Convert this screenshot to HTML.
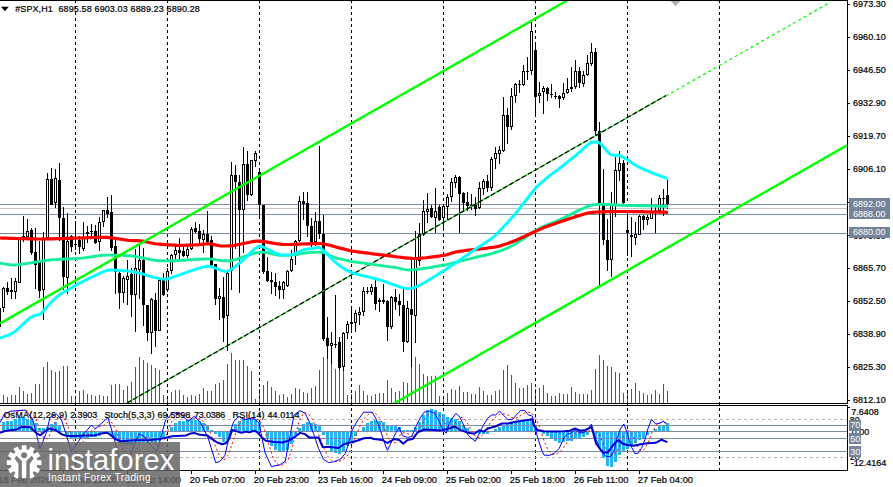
<!DOCTYPE html><html><head><meta charset="utf-8"><title>chart</title><style>
html,body{margin:0;padding:0;background:#fff}
body{width:893px;height:487px;position:relative;overflow:hidden;font-family:"Liberation Sans",sans-serif;font-size:9px;color:#000}
.t{position:absolute;white-space:pre;line-height:10px;height:10px;-webkit-text-stroke:0.22px #000}
.pl{left:853px;letter-spacing:0.05px}
.bx{position:absolute;left:849px;width:41px;background:#75849b;color:#fff;height:10px;line-height:10px;white-space:pre}
.bx span{position:absolute;left:3px;top:0}
.wm{position:absolute;left:0;top:442px;width:180px;height:45px;background:rgba(100,100,100,0.84)}
</style></head><body>
<svg width="893" height="487" viewBox="0 0 893 487" style="position:absolute;left:0;top:0">
<rect width="893" height="487" fill="#fff"/>
<defs><clipPath id="cm"><rect x="0" y="1" width="847" height="402"/></clipPath><clipPath id="cs"><rect x="0" y="406" width="847" height="64"/></clipPath></defs>
<g shape-rendering="crispEdges">
<rect x="0" y="204" width="847" height="1" fill="#7a8ba3"/>
<rect x="0" y="208" width="847" height="1" fill="#c4c4c4"/>
<rect x="0" y="214" width="847" height="1" fill="#7a8ba3"/>
<rect x="0" y="233" width="847" height="1" fill="#7a8ba3"/>
</g>
<g shape-rendering="crispEdges" fill="#0d8a0d">
<rect x="3" y="395.1" width="1" height="7.9"/>
<rect x="7" y="397.1" width="1" height="5.9"/>
<rect x="11" y="395.1" width="1" height="7.9"/>
<rect x="15" y="395.1" width="1" height="7.9"/>
<rect x="19" y="387.0" width="1" height="16.0"/>
<rect x="23" y="390.9" width="1" height="12.1"/>
<rect x="27" y="394.1" width="1" height="8.9"/>
<rect x="31" y="393.3" width="1" height="9.7"/>
<rect x="35" y="384.0" width="1" height="19.0"/>
<rect x="39" y="384.0" width="1" height="19.0"/>
<rect x="43" y="366.9" width="1" height="36.1"/>
<rect x="47" y="361.8" width="1" height="41.2"/>
<rect x="51" y="369.9" width="1" height="33.1"/>
<rect x="55" y="371.9" width="1" height="31.1"/>
<rect x="59" y="371.1" width="1" height="31.9"/>
<rect x="63" y="366.0" width="1" height="37.0"/>
<rect x="67" y="366.0" width="1" height="37.0"/>
<rect x="71" y="395.9" width="1" height="7.1"/>
<rect x="75" y="396.3" width="1" height="6.7"/>
<rect x="79" y="391.2" width="1" height="11.8"/>
<rect x="83" y="390.1" width="1" height="12.9"/>
<rect x="87" y="394.1" width="1" height="8.9"/>
<rect x="91" y="395.1" width="1" height="7.9"/>
<rect x="95" y="395.9" width="1" height="7.1"/>
<rect x="99" y="395.1" width="1" height="7.9"/>
<rect x="103" y="395.9" width="1" height="7.1"/>
<rect x="107" y="395.9" width="1" height="7.1"/>
<rect x="111" y="385.0" width="1" height="18.0"/>
<rect x="115" y="384.0" width="1" height="19.0"/>
<rect x="119" y="384.0" width="1" height="19.0"/>
<rect x="123" y="390.1" width="1" height="12.9"/>
<rect x="127" y="386.2" width="1" height="16.8"/>
<rect x="131" y="382.0" width="1" height="21.0"/>
<rect x="135" y="366.9" width="1" height="36.1"/>
<rect x="139" y="357.1" width="1" height="45.9"/>
<rect x="143" y="360.2" width="1" height="42.8"/>
<rect x="147" y="363.2" width="1" height="39.8"/>
<rect x="151" y="365.2" width="1" height="37.8"/>
<rect x="155" y="368.2" width="1" height="34.8"/>
<rect x="159" y="370.2" width="1" height="32.8"/>
<rect x="163" y="395.1" width="1" height="7.9"/>
<rect x="167" y="396.3" width="1" height="6.7"/>
<rect x="171" y="392.1" width="1" height="10.9"/>
<rect x="175" y="390.1" width="1" height="12.9"/>
<rect x="179" y="390.1" width="1" height="12.9"/>
<rect x="183" y="395.1" width="1" height="7.9"/>
<rect x="187" y="397.1" width="1" height="5.9"/>
<rect x="191" y="395.1" width="1" height="7.9"/>
<rect x="195" y="396.3" width="1" height="6.7"/>
<rect x="199" y="394.1" width="1" height="8.9"/>
<rect x="203" y="388.2" width="1" height="14.8"/>
<rect x="207" y="390.9" width="1" height="12.1"/>
<rect x="211" y="390.9" width="1" height="12.1"/>
<rect x="215" y="384.0" width="1" height="19.0"/>
<rect x="219" y="383.2" width="1" height="19.8"/>
<rect x="223" y="380.0" width="1" height="23.0"/>
<rect x="227" y="364.0" width="1" height="39.0"/>
<rect x="231" y="353.1" width="1" height="49.9"/>
<rect x="235" y="360.2" width="1" height="42.8"/>
<rect x="239" y="360.2" width="1" height="42.8"/>
<rect x="243" y="360.2" width="1" height="42.8"/>
<rect x="247" y="366.0" width="1" height="37.0"/>
<rect x="251" y="371.1" width="1" height="31.9"/>
<rect x="255" y="399.1" width="1" height="3.9"/>
<rect x="259" y="389.2" width="1" height="13.8"/>
<rect x="263" y="385.0" width="1" height="18.0"/>
<rect x="267" y="381.2" width="1" height="21.8"/>
<rect x="271" y="387.0" width="1" height="16.0"/>
<rect x="275" y="391.2" width="1" height="11.8"/>
<rect x="279" y="395.1" width="1" height="7.9"/>
<rect x="283" y="394.1" width="1" height="8.9"/>
<rect x="287" y="397.1" width="1" height="5.9"/>
<rect x="291" y="394.1" width="1" height="8.9"/>
<rect x="295" y="388.2" width="1" height="14.8"/>
<rect x="299" y="389.2" width="1" height="13.8"/>
<rect x="303" y="392.2" width="1" height="10.8"/>
<rect x="307" y="393.0" width="1" height="10.0"/>
<rect x="311" y="388.3" width="1" height="14.7"/>
<rect x="315" y="386.2" width="1" height="16.8"/>
<rect x="319" y="370.3" width="1" height="32.7"/>
<rect x="323" y="357.2" width="1" height="45.8"/>
<rect x="327" y="358.9" width="1" height="44.1"/>
<rect x="331" y="363.9" width="1" height="39.1"/>
<rect x="335" y="369.0" width="1" height="34.0"/>
<rect x="339" y="369.8" width="1" height="33.2"/>
<rect x="343" y="370.7" width="1" height="32.3"/>
<rect x="347" y="395.1" width="1" height="7.9"/>
<rect x="351" y="394.2" width="1" height="8.8"/>
<rect x="355" y="391.2" width="1" height="11.8"/>
<rect x="359" y="385.0" width="1" height="18.0"/>
<rect x="363" y="390.5" width="1" height="12.5"/>
<rect x="367" y="395.1" width="1" height="7.9"/>
<rect x="371" y="395.9" width="1" height="7.1"/>
<rect x="375" y="394.2" width="1" height="8.8"/>
<rect x="379" y="393.4" width="1" height="9.6"/>
<rect x="383" y="393.0" width="1" height="10.0"/>
<rect x="387" y="380.2" width="1" height="22.8"/>
<rect x="391" y="388.3" width="1" height="14.7"/>
<rect x="395" y="392.2" width="1" height="10.8"/>
<rect x="399" y="391.2" width="1" height="11.8"/>
<rect x="403" y="382.4" width="1" height="20.6"/>
<rect x="407" y="383.3" width="1" height="19.7"/>
<rect x="411" y="367.3" width="1" height="35.7"/>
<rect x="415" y="357.2" width="1" height="45.8"/>
<rect x="419" y="364.2" width="1" height="38.8"/>
<rect x="423" y="374.0" width="1" height="29.0"/>
<rect x="427" y="376.2" width="1" height="26.8"/>
<rect x="431" y="376.2" width="1" height="26.8"/>
<rect x="435" y="375.7" width="1" height="27.3"/>
<rect x="439" y="395.9" width="1" height="7.1"/>
<rect x="443" y="397.6" width="1" height="5.4"/>
<rect x="447" y="393.3" width="1" height="9.7"/>
<rect x="451" y="389.1" width="1" height="13.9"/>
<rect x="455" y="390.1" width="1" height="12.9"/>
<rect x="459" y="386.2" width="1" height="16.8"/>
<rect x="463" y="392.1" width="1" height="10.9"/>
<rect x="467" y="392.1" width="1" height="10.9"/>
<rect x="471" y="394.1" width="1" height="8.9"/>
<rect x="475" y="394.1" width="1" height="8.9"/>
<rect x="479" y="387.0" width="1" height="16.0"/>
<rect x="483" y="391.2" width="1" height="11.8"/>
<rect x="487" y="395.1" width="1" height="7.9"/>
<rect x="491" y="395.1" width="1" height="7.9"/>
<rect x="495" y="391.2" width="1" height="11.8"/>
<rect x="499" y="390.1" width="1" height="12.9"/>
<rect x="503" y="370.2" width="1" height="32.8"/>
<rect x="507" y="365.2" width="1" height="37.8"/>
<rect x="511" y="375.3" width="1" height="27.7"/>
<rect x="515" y="383.2" width="1" height="19.8"/>
<rect x="519" y="388.2" width="1" height="14.8"/>
<rect x="523" y="388.2" width="1" height="14.8"/>
<rect x="527" y="385.0" width="1" height="18.0"/>
<rect x="531" y="383.2" width="1" height="19.8"/>
<rect x="535" y="389.1" width="1" height="13.9"/>
<rect x="539" y="388.2" width="1" height="14.8"/>
<rect x="543" y="385.0" width="1" height="18.0"/>
<rect x="547" y="393.3" width="1" height="9.7"/>
<rect x="551" y="396.3" width="1" height="6.7"/>
<rect x="555" y="396.3" width="1" height="6.7"/>
<rect x="559" y="393.3" width="1" height="9.7"/>
<rect x="563" y="394.1" width="1" height="8.9"/>
<rect x="567" y="394.1" width="1" height="8.9"/>
<rect x="571" y="387.0" width="1" height="16.0"/>
<rect x="575" y="392.1" width="1" height="10.9"/>
<rect x="579" y="394.1" width="1" height="8.9"/>
<rect x="583" y="394.1" width="1" height="8.9"/>
<rect x="587" y="394.1" width="1" height="8.9"/>
<rect x="591" y="390.1" width="1" height="12.9"/>
<rect x="595" y="369.1" width="1" height="33.9"/>
<rect x="599" y="355.1" width="1" height="47.9"/>
<rect x="603" y="360.2" width="1" height="42.8"/>
<rect x="607" y="366.0" width="1" height="37.0"/>
<rect x="611" y="366.9" width="1" height="36.1"/>
<rect x="615" y="371.9" width="1" height="31.1"/>
<rect x="619" y="373.1" width="1" height="29.9"/>
<rect x="623" y="393.3" width="1" height="9.7"/>
<rect x="627" y="392.1" width="1" height="10.9"/>
<rect x="631" y="389.1" width="1" height="13.9"/>
<rect x="635" y="383.2" width="1" height="19.8"/>
<rect x="639" y="391.2" width="1" height="11.8"/>
<rect x="643" y="393.3" width="1" height="9.7"/>
<rect x="647" y="395.1" width="1" height="7.9"/>
<rect x="651" y="394.1" width="1" height="8.9"/>
<rect x="655" y="390.1" width="1" height="12.9"/>
<rect x="659" y="394.1" width="1" height="8.9"/>
<rect x="663" y="384.0" width="1" height="19.0"/>
<rect x="667" y="391.2" width="1" height="11.8"/>
</g>
<g shape-rendering="crispEdges" stroke="#000" stroke-width="1" stroke-dasharray="3 3">
<line x1="75.5" y1="0" x2="75.5" y2="470"/>
<line x1="167.5" y1="0" x2="167.5" y2="470"/>
<line x1="259.5" y1="0" x2="259.5" y2="470"/>
<line x1="351.5" y1="0" x2="351.5" y2="470"/>
<line x1="443.5" y1="0" x2="443.5" y2="470"/>
<line x1="535.5" y1="0" x2="535.5" y2="470"/>
<line x1="627.5" y1="0" x2="627.5" y2="470"/>
<line x1="719.5" y1="0" x2="719.5" y2="470"/>
</g>
<g shape-rendering="crispEdges" clip-path="url(#cm)">
<rect x="-1" y="300.0" width="1" height="27.0" fill="#000"/>
<rect x="-2" y="308.0" width="3" height="19.0" fill="#000"/>
<rect x="3" y="286.8" width="1" height="25.2" fill="#000"/>
<rect x="2" y="287.7" width="3" height="20.3" fill="#000"/>
<rect x="3" y="288.7" width="1" height="18.3" fill="#fff"/>
<rect x="7" y="282.0" width="1" height="13.0" fill="#000"/>
<rect x="6" y="287.7" width="3" height="4.2" fill="#000"/>
<rect x="11" y="278.4" width="1" height="21.0" fill="#000"/>
<rect x="10" y="290.0" width="3" height="1.5" fill="#000"/>
<rect x="15" y="278.0" width="1" height="21.4" fill="#000"/>
<rect x="14" y="281.0" width="3" height="11.0" fill="#000"/>
<rect x="15" y="282.0" width="1" height="9.0" fill="#fff"/>
<rect x="19" y="236.6" width="1" height="46.0" fill="#000"/>
<rect x="18" y="238.0" width="3" height="44.6" fill="#000"/>
<rect x="19" y="239.0" width="1" height="42.6" fill="#fff"/>
<rect x="23" y="216.4" width="1" height="25.2" fill="#000"/>
<rect x="22" y="235.8" width="3" height="2.5" fill="#000"/>
<rect x="23" y="236.8" width="1" height="0.5" fill="#fff"/>
<rect x="27" y="219.0" width="1" height="18.0" fill="#000"/>
<rect x="26" y="230.7" width="3" height="5.9" fill="#000"/>
<rect x="27" y="231.7" width="1" height="3.9" fill="#fff"/>
<rect x="31" y="228.0" width="1" height="26.8" fill="#000"/>
<rect x="30" y="229.9" width="3" height="23.1" fill="#000"/>
<rect x="35" y="228.2" width="1" height="60.3" fill="#000"/>
<rect x="34" y="252.0" width="3" height="13.0" fill="#000"/>
<rect x="39" y="241.4" width="1" height="56.4" fill="#000"/>
<rect x="38" y="261.6" width="3" height="29.4" fill="#000"/>
<rect x="43" y="231.5" width="1" height="88.5" fill="#000"/>
<rect x="42" y="237.5" width="3" height="52.7" fill="#000"/>
<rect x="43" y="238.5" width="1" height="50.7" fill="#fff"/>
<rect x="47" y="173.1" width="1" height="64.9" fill="#000"/>
<rect x="46" y="178.5" width="3" height="59.5" fill="#000"/>
<rect x="47" y="179.5" width="1" height="57.5" fill="#fff"/>
<rect x="51" y="168.0" width="1" height="36.6" fill="#000"/>
<rect x="50" y="179.4" width="3" height="25.2" fill="#000"/>
<rect x="55" y="169.3" width="1" height="38.7" fill="#000"/>
<rect x="54" y="177.7" width="3" height="25.3" fill="#000"/>
<rect x="55" y="178.7" width="1" height="23.3" fill="#fff"/>
<rect x="59" y="163.0" width="1" height="78.0" fill="#000"/>
<rect x="58" y="180.2" width="3" height="37.8" fill="#000"/>
<rect x="63" y="207.0" width="1" height="83.2" fill="#000"/>
<rect x="62" y="218.0" width="3" height="58.7" fill="#000"/>
<rect x="67" y="213.0" width="1" height="80.5" fill="#000"/>
<rect x="66" y="240.5" width="3" height="37.1" fill="#000"/>
<rect x="67" y="241.5" width="1" height="35.1" fill="#fff"/>
<rect x="71" y="235.0" width="1" height="16.5" fill="#000"/>
<rect x="70" y="235.5" width="3" height="11.5" fill="#000"/>
<rect x="75" y="220.6" width="1" height="29.4" fill="#000"/>
<rect x="74" y="244.0" width="3" height="1.0" fill="#000"/>
<rect x="79" y="235.5" width="1" height="18.5" fill="#000"/>
<rect x="78" y="239.5" width="3" height="7.8" fill="#000"/>
<rect x="83" y="222.4" width="1" height="28.1" fill="#000"/>
<rect x="82" y="237.0" width="3" height="11.5" fill="#000"/>
<rect x="83" y="238.0" width="1" height="9.5" fill="#fff"/>
<rect x="87" y="225.6" width="1" height="17.4" fill="#000"/>
<rect x="86" y="231.5" width="3" height="2.5" fill="#000"/>
<rect x="87" y="232.5" width="1" height="0.5" fill="#fff"/>
<rect x="91" y="223.7" width="1" height="13.3" fill="#000"/>
<rect x="90" y="231.0" width="3" height="1.0" fill="#000"/>
<rect x="95" y="225.0" width="1" height="19.0" fill="#000"/>
<rect x="94" y="230.6" width="3" height="11.9" fill="#000"/>
<rect x="99" y="217.4" width="1" height="33.1" fill="#000"/>
<rect x="98" y="221.5" width="3" height="20.0" fill="#000"/>
<rect x="99" y="222.5" width="1" height="18.0" fill="#fff"/>
<rect x="103" y="210.0" width="1" height="16.5" fill="#000"/>
<rect x="102" y="210.4" width="3" height="11.1" fill="#000"/>
<rect x="103" y="211.4" width="1" height="9.1" fill="#fff"/>
<rect x="107" y="197.0" width="1" height="21.0" fill="#000"/>
<rect x="106" y="210.0" width="3" height="4.0" fill="#000"/>
<rect x="111" y="195.3" width="1" height="55.7" fill="#000"/>
<rect x="110" y="212.4" width="3" height="35.1" fill="#000"/>
<rect x="115" y="239.0" width="1" height="55.4" fill="#000"/>
<rect x="114" y="245.6" width="3" height="26.1" fill="#000"/>
<rect x="119" y="269.0" width="1" height="39.7" fill="#000"/>
<rect x="118" y="273.4" width="3" height="19.3" fill="#000"/>
<rect x="123" y="275.9" width="1" height="26.9" fill="#000"/>
<rect x="122" y="278.4" width="3" height="14.3" fill="#000"/>
<rect x="123" y="279.4" width="1" height="12.3" fill="#fff"/>
<rect x="127" y="260.0" width="1" height="45.0" fill="#000"/>
<rect x="126" y="276.0" width="3" height="4.0" fill="#000"/>
<rect x="127" y="277.0" width="1" height="2.0" fill="#fff"/>
<rect x="131" y="268.0" width="1" height="48.5" fill="#000"/>
<rect x="130" y="274.0" width="3" height="21.2" fill="#000"/>
<rect x="135" y="249.0" width="1" height="82.5" fill="#000"/>
<rect x="134" y="268.0" width="3" height="27.2" fill="#000"/>
<rect x="135" y="269.0" width="1" height="25.2" fill="#fff"/>
<rect x="139" y="245.0" width="1" height="54.2" fill="#000"/>
<rect x="138" y="260.0" width="3" height="10.0" fill="#000"/>
<rect x="139" y="261.0" width="1" height="8.0" fill="#fff"/>
<rect x="143" y="248.3" width="1" height="77.2" fill="#000"/>
<rect x="142" y="260.0" width="3" height="45.3" fill="#000"/>
<rect x="147" y="305.0" width="1" height="35.5" fill="#000"/>
<rect x="146" y="305.3" width="3" height="27.7" fill="#000"/>
<rect x="151" y="297.7" width="1" height="56.3" fill="#000"/>
<rect x="150" y="299.4" width="3" height="33.6" fill="#000"/>
<rect x="151" y="300.4" width="1" height="31.6" fill="#fff"/>
<rect x="155" y="292.6" width="1" height="53.9" fill="#000"/>
<rect x="154" y="300.2" width="3" height="30.3" fill="#000"/>
<rect x="159" y="280.0" width="1" height="50.5" fill="#000"/>
<rect x="158" y="280.2" width="3" height="50.3" fill="#000"/>
<rect x="159" y="281.2" width="1" height="48.3" fill="#fff"/>
<rect x="163" y="273.0" width="1" height="23.0" fill="#000"/>
<rect x="162" y="280.2" width="3" height="14.6" fill="#000"/>
<rect x="167" y="268.0" width="1" height="23.8" fill="#000"/>
<rect x="166" y="271.4" width="3" height="18.6" fill="#000"/>
<rect x="167" y="272.4" width="1" height="16.6" fill="#fff"/>
<rect x="171" y="254.0" width="1" height="20.0" fill="#000"/>
<rect x="170" y="255.4" width="3" height="16.0" fill="#000"/>
<rect x="171" y="256.4" width="1" height="14.0" fill="#fff"/>
<rect x="175" y="245.5" width="1" height="13.0" fill="#000"/>
<rect x="174" y="249.5" width="3" height="5.9" fill="#000"/>
<rect x="175" y="250.5" width="1" height="3.9" fill="#fff"/>
<rect x="179" y="238.0" width="1" height="21.0" fill="#000"/>
<rect x="178" y="249.5" width="3" height="3.5" fill="#000"/>
<rect x="183" y="246.6" width="1" height="10.4" fill="#000"/>
<rect x="182" y="250.5" width="3" height="5.0" fill="#000"/>
<rect x="187" y="245.4" width="1" height="12.6" fill="#000"/>
<rect x="186" y="249.0" width="3" height="6.5" fill="#000"/>
<rect x="187" y="250.0" width="1" height="4.5" fill="#fff"/>
<rect x="191" y="226.6" width="1" height="22.9" fill="#000"/>
<rect x="190" y="229.0" width="3" height="20.0" fill="#000"/>
<rect x="191" y="230.0" width="1" height="18.0" fill="#fff"/>
<rect x="195" y="221.5" width="1" height="11.3" fill="#000"/>
<rect x="194" y="227.8" width="3" height="3.8" fill="#000"/>
<rect x="199" y="224.0" width="1" height="21.0" fill="#000"/>
<rect x="198" y="230.5" width="3" height="8.5" fill="#000"/>
<rect x="203" y="230.3" width="1" height="22.7" fill="#000"/>
<rect x="202" y="234.2" width="3" height="6.1" fill="#000"/>
<rect x="203" y="235.2" width="1" height="4.1" fill="#fff"/>
<rect x="207" y="211.0" width="1" height="32.0" fill="#000"/>
<rect x="206" y="234.3" width="3" height="7.7" fill="#000"/>
<rect x="211" y="236.3" width="1" height="29.2" fill="#000"/>
<rect x="210" y="240.4" width="3" height="24.6" fill="#000"/>
<rect x="215" y="264.0" width="1" height="41.3" fill="#000"/>
<rect x="214" y="264.0" width="3" height="34.5" fill="#000"/>
<rect x="219" y="287.6" width="1" height="32.0" fill="#000"/>
<rect x="218" y="295.5" width="3" height="3.0" fill="#000"/>
<rect x="219" y="296.5" width="1" height="1.0" fill="#fff"/>
<rect x="223" y="277.3" width="1" height="65.0" fill="#000"/>
<rect x="222" y="296.8" width="3" height="21.1" fill="#000"/>
<rect x="227" y="272.0" width="1" height="78.7" fill="#000"/>
<rect x="226" y="273.1" width="3" height="43.1" fill="#000"/>
<rect x="227" y="274.1" width="1" height="41.1" fill="#fff"/>
<rect x="231" y="161.9" width="1" height="128.1" fill="#000"/>
<rect x="230" y="175.4" width="3" height="96.0" fill="#000"/>
<rect x="231" y="176.4" width="1" height="94.0" fill="#fff"/>
<rect x="235" y="165.3" width="1" height="83.4" fill="#000"/>
<rect x="234" y="175.4" width="3" height="6.6" fill="#000"/>
<rect x="239" y="174.5" width="1" height="118.1" fill="#000"/>
<rect x="238" y="182.0" width="3" height="27.5" fill="#000"/>
<rect x="243" y="147.0" width="1" height="106.0" fill="#000"/>
<rect x="242" y="163.6" width="3" height="46.3" fill="#000"/>
<rect x="243" y="164.6" width="1" height="44.3" fill="#fff"/>
<rect x="247" y="151.4" width="1" height="49.2" fill="#000"/>
<rect x="246" y="164.4" width="3" height="30.3" fill="#000"/>
<rect x="251" y="159.5" width="1" height="36.1" fill="#000"/>
<rect x="250" y="160.2" width="3" height="34.5" fill="#000"/>
<rect x="251" y="161.2" width="1" height="32.5" fill="#fff"/>
<rect x="255" y="151.4" width="1" height="15.6" fill="#000"/>
<rect x="254" y="153.1" width="3" height="7.9" fill="#000"/>
<rect x="255" y="154.1" width="1" height="5.9" fill="#fff"/>
<rect x="259" y="167.8" width="1" height="51.2" fill="#000"/>
<rect x="258" y="172.0" width="3" height="32.8" fill="#000"/>
<rect x="263" y="204.8" width="1" height="69.2" fill="#000"/>
<rect x="262" y="204.8" width="3" height="67.5" fill="#000"/>
<rect x="267" y="257.0" width="1" height="24.5" fill="#000"/>
<rect x="266" y="270.6" width="3" height="10.1" fill="#000"/>
<rect x="271" y="272.3" width="1" height="21.2" fill="#000"/>
<rect x="270" y="280.0" width="3" height="2.4" fill="#000"/>
<rect x="275" y="273.1" width="1" height="22.9" fill="#000"/>
<rect x="274" y="282.4" width="3" height="4.2" fill="#000"/>
<rect x="279" y="280.7" width="1" height="17.8" fill="#000"/>
<rect x="278" y="285.8" width="3" height="4.2" fill="#000"/>
<rect x="283" y="280.7" width="1" height="18.7" fill="#000"/>
<rect x="282" y="282.4" width="3" height="7.6" fill="#000"/>
<rect x="283" y="283.4" width="1" height="5.6" fill="#fff"/>
<rect x="287" y="270.0" width="1" height="16.6" fill="#000"/>
<rect x="286" y="270.6" width="3" height="15.2" fill="#000"/>
<rect x="287" y="271.6" width="1" height="13.2" fill="#fff"/>
<rect x="291" y="250.4" width="1" height="21.9" fill="#000"/>
<rect x="290" y="258.8" width="3" height="12.6" fill="#000"/>
<rect x="291" y="259.8" width="1" height="10.6" fill="#fff"/>
<rect x="295" y="240.3" width="1" height="24.4" fill="#000"/>
<rect x="294" y="241.1" width="3" height="14.9" fill="#000"/>
<rect x="295" y="242.1" width="1" height="12.9" fill="#fff"/>
<rect x="299" y="196.4" width="1" height="45.1" fill="#000"/>
<rect x="298" y="201.4" width="3" height="39.7" fill="#000"/>
<rect x="299" y="202.4" width="1" height="37.7" fill="#fff"/>
<rect x="303" y="192.2" width="1" height="27.8" fill="#000"/>
<rect x="302" y="201.4" width="3" height="2.6" fill="#000"/>
<rect x="307" y="192.2" width="1" height="44.8" fill="#000"/>
<rect x="306" y="203.1" width="3" height="22.9" fill="#000"/>
<rect x="311" y="217.6" width="1" height="29.4" fill="#000"/>
<rect x="310" y="226.0" width="3" height="16.0" fill="#000"/>
<rect x="315" y="212.0" width="1" height="34.0" fill="#000"/>
<rect x="314" y="221.0" width="3" height="21.0" fill="#000"/>
<rect x="315" y="222.0" width="1" height="19.0" fill="#fff"/>
<rect x="319" y="145.9" width="1" height="92.7" fill="#000"/>
<rect x="318" y="221.0" width="3" height="12.6" fill="#000"/>
<rect x="323" y="215.0" width="1" height="125.6" fill="#000"/>
<rect x="322" y="233.6" width="3" height="105.4" fill="#000"/>
<rect x="327" y="317.1" width="1" height="41.6" fill="#000"/>
<rect x="326" y="338.2" width="3" height="7.4" fill="#000"/>
<rect x="331" y="332.2" width="1" height="31.5" fill="#000"/>
<rect x="330" y="343.0" width="3" height="2.5" fill="#000"/>
<rect x="331" y="344.0" width="1" height="0.5" fill="#fff"/>
<rect x="335" y="295.3" width="1" height="52.2" fill="#000"/>
<rect x="334" y="343.5" width="3" height="1.0" fill="#000"/>
<rect x="339" y="337.0" width="1" height="32.6" fill="#000"/>
<rect x="338" y="342.0" width="3" height="26.0" fill="#000"/>
<rect x="343" y="332.3" width="1" height="38.2" fill="#000"/>
<rect x="342" y="333.1" width="3" height="33.9" fill="#000"/>
<rect x="343" y="334.1" width="1" height="31.9" fill="#fff"/>
<rect x="347" y="321.3" width="1" height="17.9" fill="#000"/>
<rect x="346" y="323.9" width="3" height="9.4" fill="#000"/>
<rect x="347" y="324.9" width="1" height="7.4" fill="#fff"/>
<rect x="351" y="306.0" width="1" height="27.0" fill="#000"/>
<rect x="350" y="322.2" width="3" height="1.7" fill="#000"/>
<rect x="355" y="309.6" width="1" height="22.7" fill="#000"/>
<rect x="354" y="313.4" width="3" height="9.6" fill="#000"/>
<rect x="355" y="314.4" width="1" height="7.6" fill="#fff"/>
<rect x="359" y="307.4" width="1" height="17.3" fill="#000"/>
<rect x="358" y="312.1" width="3" height="2.5" fill="#000"/>
<rect x="359" y="313.1" width="1" height="0.5" fill="#fff"/>
<rect x="363" y="286.5" width="1" height="29.0" fill="#000"/>
<rect x="362" y="291.0" width="3" height="21.1" fill="#000"/>
<rect x="363" y="292.0" width="1" height="19.1" fill="#fff"/>
<rect x="367" y="286.8" width="1" height="6.8" fill="#000"/>
<rect x="366" y="291.2" width="3" height="1.0" fill="#000"/>
<rect x="371" y="284.3" width="1" height="11.0" fill="#000"/>
<rect x="370" y="286.8" width="3" height="5.1" fill="#000"/>
<rect x="371" y="287.8" width="1" height="3.1" fill="#fff"/>
<rect x="375" y="280.1" width="1" height="30.3" fill="#000"/>
<rect x="374" y="286.8" width="3" height="16.9" fill="#000"/>
<rect x="379" y="297.8" width="1" height="14.3" fill="#000"/>
<rect x="378" y="300.0" width="3" height="2.3" fill="#000"/>
<rect x="379" y="301.0" width="1" height="0.3" fill="#fff"/>
<rect x="383" y="284.3" width="1" height="19.4" fill="#000"/>
<rect x="382" y="300.3" width="3" height="1.7" fill="#000"/>
<rect x="387" y="300.0" width="1" height="40.7" fill="#000"/>
<rect x="386" y="301.1" width="3" height="26.1" fill="#000"/>
<rect x="391" y="296.0" width="1" height="32.6" fill="#000"/>
<rect x="390" y="296.9" width="3" height="30.3" fill="#000"/>
<rect x="391" y="297.9" width="1" height="28.3" fill="#fff"/>
<rect x="395" y="289.4" width="1" height="21.0" fill="#000"/>
<rect x="394" y="296.9" width="3" height="5.1" fill="#000"/>
<rect x="399" y="294.4" width="1" height="21.9" fill="#000"/>
<rect x="398" y="301.1" width="3" height="4.3" fill="#000"/>
<rect x="403" y="289.4" width="1" height="62.6" fill="#000"/>
<rect x="402" y="305.4" width="3" height="36.1" fill="#000"/>
<rect x="407" y="301.1" width="1" height="42.1" fill="#000"/>
<rect x="406" y="307.9" width="3" height="34.1" fill="#000"/>
<rect x="407" y="308.9" width="1" height="32.1" fill="#fff"/>
<rect x="411" y="257.0" width="1" height="110.0" fill="#000"/>
<rect x="410" y="308.7" width="3" height="6.4" fill="#000"/>
<rect x="415" y="230.6" width="1" height="111.9" fill="#000"/>
<rect x="414" y="258.0" width="3" height="57.8" fill="#000"/>
<rect x="415" y="259.0" width="1" height="55.8" fill="#fff"/>
<rect x="419" y="223.0" width="1" height="43.0" fill="#000"/>
<rect x="418" y="234.0" width="3" height="27.0" fill="#000"/>
<rect x="419" y="235.0" width="1" height="25.0" fill="#fff"/>
<rect x="423" y="200.3" width="1" height="35.2" fill="#000"/>
<rect x="422" y="211.2" width="3" height="23.6" fill="#000"/>
<rect x="423" y="212.2" width="1" height="21.6" fill="#fff"/>
<rect x="427" y="193.2" width="1" height="29.8" fill="#000"/>
<rect x="426" y="209.0" width="3" height="3.0" fill="#000"/>
<rect x="427" y="210.0" width="1" height="1.0" fill="#fff"/>
<rect x="431" y="204.5" width="1" height="13.5" fill="#000"/>
<rect x="430" y="208.4" width="3" height="8.7" fill="#000"/>
<rect x="435" y="188.2" width="1" height="44.9" fill="#000"/>
<rect x="434" y="211.2" width="3" height="6.8" fill="#000"/>
<rect x="435" y="212.2" width="1" height="4.8" fill="#fff"/>
<rect x="439" y="205.4" width="1" height="15.1" fill="#000"/>
<rect x="438" y="207.4" width="3" height="12.3" fill="#000"/>
<rect x="443" y="205.0" width="1" height="25.6" fill="#000"/>
<rect x="442" y="206.2" width="3" height="11.8" fill="#000"/>
<rect x="443" y="207.2" width="1" height="9.8" fill="#fff"/>
<rect x="447" y="194.4" width="1" height="25.6" fill="#000"/>
<rect x="446" y="197.0" width="3" height="10.4" fill="#000"/>
<rect x="447" y="198.0" width="1" height="8.4" fill="#fff"/>
<rect x="451" y="177.6" width="1" height="24.4" fill="#000"/>
<rect x="450" y="181.8" width="3" height="15.2" fill="#000"/>
<rect x="451" y="182.8" width="1" height="13.2" fill="#fff"/>
<rect x="455" y="175.0" width="1" height="12.7" fill="#000"/>
<rect x="454" y="177.0" width="3" height="5.6" fill="#000"/>
<rect x="455" y="178.0" width="1" height="3.6" fill="#fff"/>
<rect x="459" y="175.9" width="1" height="57.2" fill="#000"/>
<rect x="458" y="177.0" width="3" height="16.6" fill="#000"/>
<rect x="463" y="192.0" width="1" height="18.4" fill="#000"/>
<rect x="462" y="192.7" width="3" height="10.1" fill="#000"/>
<rect x="467" y="191.9" width="1" height="19.3" fill="#000"/>
<rect x="466" y="202.0" width="3" height="4.2" fill="#000"/>
<rect x="471" y="194.4" width="1" height="16.0" fill="#000"/>
<rect x="470" y="204.5" width="3" height="1.7" fill="#000"/>
<rect x="475" y="197.0" width="1" height="18.5" fill="#000"/>
<rect x="474" y="204.5" width="3" height="4.2" fill="#000"/>
<rect x="479" y="182.1" width="1" height="26.9" fill="#000"/>
<rect x="478" y="188.2" width="3" height="20.2" fill="#000"/>
<rect x="479" y="189.2" width="1" height="18.2" fill="#fff"/>
<rect x="483" y="179.3" width="1" height="16.0" fill="#000"/>
<rect x="482" y="181.0" width="3" height="7.5" fill="#000"/>
<rect x="483" y="182.0" width="1" height="5.5" fill="#fff"/>
<rect x="487" y="175.0" width="1" height="16.9" fill="#000"/>
<rect x="486" y="181.0" width="3" height="6.7" fill="#000"/>
<rect x="491" y="157.3" width="1" height="33.7" fill="#000"/>
<rect x="490" y="159.0" width="3" height="28.7" fill="#000"/>
<rect x="491" y="160.0" width="1" height="26.7" fill="#fff"/>
<rect x="495" y="147.2" width="1" height="21.8" fill="#000"/>
<rect x="494" y="153.1" width="3" height="5.9" fill="#000"/>
<rect x="495" y="154.1" width="1" height="3.9" fill="#fff"/>
<rect x="499" y="146.4" width="1" height="17.6" fill="#000"/>
<rect x="498" y="149.8" width="3" height="3.8" fill="#000"/>
<rect x="499" y="150.8" width="1" height="1.8" fill="#fff"/>
<rect x="503" y="97.0" width="1" height="54.5" fill="#000"/>
<rect x="502" y="115.3" width="3" height="35.3" fill="#000"/>
<rect x="503" y="116.3" width="1" height="33.3" fill="#fff"/>
<rect x="507" y="108.2" width="1" height="35.7" fill="#000"/>
<rect x="506" y="115.3" width="3" height="12.1" fill="#000"/>
<rect x="511" y="88.2" width="1" height="42.2" fill="#000"/>
<rect x="510" y="96.2" width="3" height="31.2" fill="#000"/>
<rect x="511" y="97.2" width="1" height="29.2" fill="#fff"/>
<rect x="515" y="83.2" width="1" height="19.4" fill="#000"/>
<rect x="514" y="84.0" width="3" height="12.4" fill="#000"/>
<rect x="515" y="85.0" width="1" height="10.4" fill="#fff"/>
<rect x="519" y="79.8" width="1" height="13.5" fill="#000"/>
<rect x="518" y="84.0" width="3" height="1.0" fill="#000"/>
<rect x="523" y="65.2" width="1" height="20.5" fill="#000"/>
<rect x="522" y="71.4" width="3" height="13.5" fill="#000"/>
<rect x="523" y="72.4" width="1" height="11.5" fill="#fff"/>
<rect x="527" y="57.1" width="1" height="22.7" fill="#000"/>
<rect x="526" y="71.0" width="3" height="1.0" fill="#000"/>
<rect x="531" y="21.7" width="1" height="53.1" fill="#000"/>
<rect x="530" y="30.5" width="3" height="40.9" fill="#000"/>
<rect x="531" y="31.5" width="1" height="38.9" fill="#fff"/>
<rect x="535" y="42.8" width="1" height="72.2" fill="#000"/>
<rect x="534" y="50.4" width="3" height="46.3" fill="#000"/>
<rect x="539" y="81.5" width="1" height="21.1" fill="#000"/>
<rect x="538" y="93.4" width="3" height="3.0" fill="#000"/>
<rect x="539" y="94.4" width="1" height="1.0" fill="#fff"/>
<rect x="543" y="85.7" width="1" height="27.9" fill="#000"/>
<rect x="542" y="87.7" width="3" height="4.7" fill="#000"/>
<rect x="543" y="88.7" width="1" height="2.7" fill="#fff"/>
<rect x="547" y="86.5" width="1" height="14.9" fill="#000"/>
<rect x="546" y="87.7" width="3" height="6.1" fill="#000"/>
<rect x="551" y="84.0" width="1" height="14.4" fill="#000"/>
<rect x="550" y="94.2" width="3" height="1.0" fill="#000"/>
<rect x="555" y="92.4" width="1" height="6.9" fill="#000"/>
<rect x="554" y="95.5" width="3" height="1.0" fill="#000"/>
<rect x="559" y="95.0" width="1" height="12.7" fill="#000"/>
<rect x="558" y="96.4" width="3" height="2.9" fill="#000"/>
<rect x="563" y="83.2" width="1" height="17.2" fill="#000"/>
<rect x="562" y="93.3" width="3" height="5.1" fill="#000"/>
<rect x="563" y="94.3" width="1" height="3.1" fill="#fff"/>
<rect x="567" y="78.1" width="1" height="15.9" fill="#000"/>
<rect x="566" y="89.1" width="3" height="4.2" fill="#000"/>
<rect x="567" y="90.1" width="1" height="2.2" fill="#fff"/>
<rect x="571" y="67.2" width="1" height="24.4" fill="#000"/>
<rect x="570" y="86.5" width="3" height="2.9" fill="#000"/>
<rect x="571" y="87.5" width="1" height="0.9" fill="#fff"/>
<rect x="575" y="60.1" width="1" height="28.6" fill="#000"/>
<rect x="574" y="71.4" width="3" height="15.6" fill="#000"/>
<rect x="575" y="72.4" width="1" height="13.6" fill="#fff"/>
<rect x="579" y="67.2" width="1" height="21.0" fill="#000"/>
<rect x="578" y="71.4" width="3" height="11.8" fill="#000"/>
<rect x="583" y="71.4" width="1" height="15.1" fill="#000"/>
<rect x="582" y="75.3" width="3" height="8.4" fill="#000"/>
<rect x="583" y="76.3" width="1" height="6.4" fill="#fff"/>
<rect x="587" y="55.1" width="1" height="20.5" fill="#000"/>
<rect x="586" y="62.5" width="3" height="12.8" fill="#000"/>
<rect x="587" y="63.5" width="1" height="10.8" fill="#fff"/>
<rect x="591" y="43.3" width="1" height="23.0" fill="#000"/>
<rect x="590" y="52.4" width="3" height="11.8" fill="#000"/>
<rect x="591" y="53.4" width="1" height="9.8" fill="#fff"/>
<rect x="595" y="47.8" width="1" height="88.2" fill="#000"/>
<rect x="594" y="52.4" width="3" height="78.6" fill="#000"/>
<rect x="599" y="121.5" width="1" height="163.0" fill="#000"/>
<rect x="598" y="131.0" width="3" height="72.0" fill="#000"/>
<rect x="603" y="169.0" width="1" height="75.5" fill="#000"/>
<rect x="602" y="203.0" width="3" height="36.5" fill="#000"/>
<rect x="607" y="218.6" width="1" height="52.4" fill="#000"/>
<rect x="606" y="240.0" width="3" height="19.8" fill="#000"/>
<rect x="611" y="192.0" width="1" height="84.5" fill="#000"/>
<rect x="610" y="205.0" width="3" height="54.8" fill="#000"/>
<rect x="611" y="206.0" width="1" height="52.8" fill="#fff"/>
<rect x="615" y="157.0" width="1" height="59.9" fill="#000"/>
<rect x="614" y="170.2" width="3" height="34.8" fill="#000"/>
<rect x="615" y="171.2" width="1" height="32.8" fill="#fff"/>
<rect x="619" y="151.1" width="1" height="29.5" fill="#000"/>
<rect x="618" y="163.4" width="3" height="7.1" fill="#000"/>
<rect x="619" y="164.4" width="1" height="5.1" fill="#fff"/>
<rect x="623" y="160.4" width="1" height="43.2" fill="#000"/>
<rect x="622" y="162.9" width="3" height="39.6" fill="#000"/>
<rect x="627" y="211.8" width="1" height="44.6" fill="#000"/>
<rect x="626" y="229.5" width="3" height="3.4" fill="#000"/>
<rect x="631" y="216.9" width="1" height="39.6" fill="#000"/>
<rect x="630" y="234.6" width="3" height="2.8" fill="#000"/>
<rect x="635" y="222.0" width="1" height="22.7" fill="#000"/>
<rect x="634" y="234.0" width="3" height="4.0" fill="#000"/>
<rect x="635" y="235.0" width="1" height="2.0" fill="#fff"/>
<rect x="639" y="215.0" width="1" height="20.0" fill="#000"/>
<rect x="638" y="216.0" width="3" height="18.6" fill="#000"/>
<rect x="639" y="217.0" width="1" height="16.6" fill="#fff"/>
<rect x="643" y="215.0" width="1" height="14.5" fill="#000"/>
<rect x="642" y="216.0" width="3" height="4.0" fill="#000"/>
<rect x="647" y="214.8" width="1" height="10.2" fill="#000"/>
<rect x="646" y="216.5" width="3" height="3.0" fill="#000"/>
<rect x="647" y="217.5" width="1" height="1.0" fill="#fff"/>
<rect x="651" y="197.6" width="1" height="21.4" fill="#000"/>
<rect x="650" y="211.8" width="3" height="6.8" fill="#000"/>
<rect x="651" y="212.8" width="1" height="4.8" fill="#fff"/>
<rect x="655" y="206.0" width="1" height="27.0" fill="#000"/>
<rect x="654" y="210.2" width="3" height="1.0" fill="#000"/>
<rect x="659" y="195.0" width="1" height="16.5" fill="#000"/>
<rect x="658" y="197.6" width="3" height="13.4" fill="#000"/>
<rect x="659" y="198.6" width="1" height="11.4" fill="#fff"/>
<rect x="663" y="189.0" width="1" height="26.8" fill="#000"/>
<rect x="662" y="197.5" width="3" height="1.0" fill="#000"/>
<rect x="667" y="179.7" width="1" height="29.0" fill="#000"/>
<rect x="666" y="195.2" width="3" height="9.2" fill="#000"/>
</g>
<g clip-path="url(#cm)">
<line x1="127" y1="403" x2="666" y2="95.5" stroke="#10e010" stroke-width="1.1"/>
<line x1="127" y1="403" x2="666" y2="95.5" stroke="#000" stroke-width="1.2" stroke-dasharray="4.8 2.3"/>
</g>
<g clip-path="url(#cm)" fill="none" stroke-linejoin="round" stroke-linecap="butt">
<polyline points="0.0,263.0 1.1,263.2 2.7,263.6 4.8,264.0 7.2,264.4 9.8,264.8 12.4,265.0 15.0,265.0 16.2,264.9 17.7,264.7 19.4,264.5 21.3,264.3 23.5,263.9 25.8,263.6 28.1,263.2 30.6,262.9 33.1,262.5 35.6,262.1 38.0,261.7 40.4,261.3 42.7,261.0 44.8,260.7 46.8,260.4 48.5,260.2 50.0,260.0 51.6,259.8 53.4,259.7 55.4,259.6 57.5,259.5 59.7,259.3 62.0,259.2 64.3,259.1 66.6,259.0 68.9,258.9 71.1,258.8 73.2,258.7 75.2,258.6 77.0,258.5 78.6,258.4 80.0,258.3 81.7,258.1 83.6,257.9 85.7,257.6 88.0,257.3 90.3,257.0 92.6,256.6 94.9,256.3 97.2,256.0 99.3,255.7 101.3,255.5 103.1,255.3 104.7,255.2 106.3,255.1 108.2,255.1 110.4,255.1 112.7,255.2 115.1,255.2 117.5,255.3 120.0,255.4 122.3,255.4 124.4,255.5 126.4,255.6 128.0,255.7 129.3,255.8 131.5,256.0 133.8,256.3 136.0,256.7 138.1,257.0 140.0,257.4 141.6,257.7 143.4,258.0 145.6,258.5 148.1,259.0 150.5,259.4 152.5,259.8 154.0,260.1 156.0,260.4 158.0,260.7 160.0,260.8 161.5,260.8 163.5,260.9 165.9,260.9 168.3,260.8 170.5,260.8 172.3,260.8 174.0,260.7 176.1,260.7 178.4,260.5 180.8,260.4 182.9,260.3 184.6,260.2 186.3,260.1 188.5,259.9 190.8,259.7 193.1,259.6 195.3,259.4 197.0,259.3 198.8,259.2 201.0,259.1 203.4,259.0 205.8,259.0 207.8,258.9 209.3,258.9 211.5,259.1 213.7,259.3 215.4,259.6 217.3,259.9 219.6,260.2 221.6,260.5 223.8,260.7 226.7,260.8 229.0,260.8 231.2,260.5 234.0,259.9 236.4,259.3 238.5,258.6 241.3,257.6 244.1,256.6 246.2,255.9 248.7,255.0 251.4,254.1 253.6,253.4 255.6,252.9 258.0,252.5 260.0,252.2 262.1,252.2 264.7,252.4 267.3,252.7 268.8,253.0 270.8,253.5 273.1,254.0 275.5,254.5 277.7,255.0 279.6,255.2 281.1,255.2 283.0,255.2 285.3,255.2 287.7,255.1 290.0,255.0 292.2,254.8 294.1,254.7 295.6,254.6 297.7,254.3 300.1,253.9 302.5,253.4 304.8,253.0 306.7,252.7 308.4,252.6 310.7,252.4 313.1,252.3 315.5,252.2 317.6,252.1 319.0,252.1 321.6,252.2 324.0,252.7 325.6,253.4 328.0,254.5 330.6,255.7 333.1,256.8 335.0,257.6 336.8,258.1 338.9,258.7 341.2,259.2 343.3,259.7 345.0,260.1 346.4,260.4 347.8,260.7 349.6,261.1 351.9,261.5 355.0,262.0 356.0,262.2 357.4,262.3 359.0,262.6 360.8,262.8 362.8,263.1 365.0,263.4 367.3,263.7 369.7,264.0 372.2,264.4 374.7,264.7 377.3,265.1 379.8,265.4 382.2,265.7 384.6,266.1 386.8,266.4 388.9,266.7 390.8,266.9 392.4,267.1 393.9,267.3 395.0,267.5 397.3,267.9 399.5,268.3 401.4,268.8 403.3,269.2 405.1,269.6 407.0,269.9 408.9,270.0 411.0,270.0 412.2,269.9 413.7,269.8 415.5,269.6 417.5,269.3 419.6,269.0 421.9,268.7 424.3,268.3 426.8,268.0 429.2,267.6 431.7,267.2 434.1,266.8 436.4,266.4 438.6,266.0 440.6,265.6 442.4,265.3 444.0,265.0 445.6,264.7 447.4,264.3 449.4,263.8 451.6,263.3 453.9,262.7 456.4,262.1 458.8,261.5 461.3,260.9 463.8,260.3 466.1,259.7 468.4,259.1 470.6,258.6 472.5,258.1 474.3,257.7 475.8,257.3 477.0,257.0 479.4,256.5 481.7,255.9 484.0,255.5 486.2,255.0 488.3,254.6 490.1,254.1 491.7,253.7 493.4,253.2 495.5,252.5 497.9,251.7 500.3,250.9 502.7,250.0 504.8,249.2 506.5,248.5 508.2,247.7 510.4,246.5 512.8,245.2 515.3,243.9 517.6,242.5 519.6,241.3 521.2,240.4 523.2,239.1 525.4,237.5 527.7,235.8 529.8,234.2 531.6,233.0 533.5,231.8 535.9,230.4 538.6,228.9 541.1,227.5 543.4,226.4 544.8,225.8 546.6,225.0 548.6,224.3 550.8,223.4 553.1,222.5 555.5,221.6 557.8,220.6 560.0,219.7 561.2,219.1 562.7,218.4 564.4,217.6 566.3,216.6 568.4,215.5 570.6,214.4 572.8,213.3 575.2,212.1 577.6,210.9 579.9,209.8 582.3,208.7 584.5,207.7 586.6,206.9 588.6,206.1 590.4,205.5 592.0,205.1 593.5,204.8 595.2,204.6 597.0,204.5 599.0,204.4 601.1,204.4 603.3,204.4 605.6,204.5 607.9,204.5 610.3,204.6 612.6,204.7 615.0,204.8 617.2,205.0 619.4,205.1 621.5,205.2 623.5,205.3 625.3,205.4 627.0,205.4 628.5,205.4 630.2,205.5 632.1,205.5 634.2,205.6 636.5,205.6 638.9,205.7 641.3,205.7 643.9,205.8 646.5,205.8 649.0,205.9 651.6,206.0 654.1,206.0 656.4,206.1 658.7,206.2 660.8,206.2 662.8,206.3 664.5,206.3 665.9,206.3 667.1,206.4 668.0,206.4" stroke="#14ee9c" stroke-width="2.9"/>
<polyline points="0.0,238.0 0.9,238.0 2.0,238.1 3.4,238.1 5.1,238.1 6.9,238.2 8.9,238.3 11.1,238.3 13.4,238.4 15.8,238.5 18.2,238.5 20.7,238.6 23.2,238.7 25.7,238.7 28.1,238.8 30.5,238.9 32.7,238.9 34.8,238.9 36.7,239.0 38.5,239.0 40.0,239.0 41.5,239.0 43.2,239.0 45.0,239.0 47.0,238.9 49.1,238.9 51.3,238.8 53.6,238.8 55.9,238.7 58.3,238.6 60.7,238.6 63.0,238.5 65.3,238.4 67.6,238.4 69.8,238.3 71.9,238.2 73.8,238.2 75.7,238.1 77.3,238.1 78.8,238.0 80.0,238.0 82.0,237.9 84.2,237.9 86.4,237.8 88.8,237.7 91.2,237.6 93.6,237.5 95.9,237.5 98.1,237.4 100.1,237.4 101.9,237.3 103.5,237.3 104.7,237.3 106.9,237.4 109.2,237.6 111.4,237.8 113.5,238.1 115.4,238.4 117.0,238.6 118.7,238.8 120.8,239.2 123.2,239.5 125.5,239.9 127.6,240.2 129.3,240.4 131.0,240.5 133.1,240.6 135.4,240.7 137.8,240.7 139.9,240.8 141.6,241.0 143.4,241.3 145.6,241.7 148.1,242.2 150.5,242.8 152.5,243.2 154.0,243.5 155.9,243.8 157.7,244.0 160.0,244.2 161.2,244.3 163.0,244.4 165.1,244.6 167.5,244.8 169.9,244.9 172.4,245.1 174.8,245.2 176.8,245.3 178.5,245.4 180.2,245.4 182.2,245.4 184.4,245.3 186.8,245.2 189.2,245.2 191.6,245.1 193.7,245.0 195.6,244.9 197.0,244.8 198.9,244.7 201.1,244.4 203.3,244.2 205.4,244.0 207.4,243.8 209.0,243.8 210.7,244.0 212.9,244.4 215.3,244.9 217.7,245.4 219.9,245.8 221.6,246.0 223.3,246.0 225.5,246.0 227.8,245.9 230.2,245.8 232.3,245.6 234.0,245.4 235.7,245.1 237.7,244.7 240.0,244.3 242.2,243.8 244.3,243.3 246.0,243.0 247.7,242.7 249.7,242.2 251.9,241.7 254.3,241.3 256.7,241.1 259.0,241.0 260.3,241.1 261.9,241.3 263.8,241.6 265.8,241.9 268.1,242.3 270.5,242.7 272.9,243.1 275.3,243.5 277.7,243.8 279.9,244.1 282.1,244.4 284.0,244.5 285.3,244.5 287.0,244.5 288.8,244.5 290.8,244.5 293.0,244.4 295.3,244.3 297.7,244.2 300.2,244.1 302.7,244.0 305.2,244.0 307.7,243.9 310.0,243.8 312.3,243.7 314.5,243.7 316.4,243.6 318.2,243.6 319.7,243.6 321.0,243.7 323.1,243.9 325.3,244.3 327.6,244.7 329.9,245.3 332.1,245.9 334.3,246.5 336.3,247.1 338.2,247.6 339.9,248.1 341.2,248.4 343.3,248.9 345.5,249.4 347.8,250.0 350.1,250.6 352.6,251.1 355.0,251.5 356.2,251.7 357.7,251.9 359.5,252.1 361.5,252.4 363.6,252.7 365.9,252.9 368.2,253.2 370.6,253.5 372.9,253.8 375.2,254.1 377.4,254.3 379.5,254.6 381.4,254.8 383.0,255.0 384.4,255.2 386.1,255.4 387.9,255.6 390.0,255.9 392.1,256.2 394.3,256.5 396.6,256.8 399.0,257.0 401.3,257.3 403.6,257.6 405.8,257.8 408.0,258.1 410.0,258.2 411.9,258.4 413.5,258.5 415.0,258.5 416.7,258.5 418.6,258.4 420.7,258.2 423.0,258.0 425.5,257.8 427.9,257.5 430.4,257.2 432.9,256.9 435.2,256.6 437.5,256.3 439.5,256.0 441.3,255.7 442.8,255.5 444.0,255.3 446.6,254.8 449.0,254.1 451.1,253.3 453.0,252.7 454.8,252.2 456.4,251.9 458.4,251.6 460.8,251.2 463.2,250.9 465.6,250.5 467.8,250.2 469.5,250.0 471.2,249.8 473.3,249.6 475.7,249.4 478.1,249.1 480.5,248.9 482.6,248.7 484.3,248.5 486.0,248.3 488.1,248.0 490.4,247.7 492.8,247.4 495.2,247.0 497.3,246.7 499.0,246.3 500.7,245.8 502.9,245.1 505.2,244.3 507.7,243.5 510.0,242.6 512.2,241.8 513.9,241.1 515.6,240.4 517.7,239.5 520.1,238.4 522.5,237.3 524.8,236.2 526.9,235.3 528.6,234.5 530.3,233.7 532.4,232.8 534.7,231.7 537.1,230.6 539.5,229.5 541.6,228.6 543.4,227.8 544.9,227.2 546.8,226.5 548.8,225.8 551.0,225.0 553.3,224.2 555.6,223.4 557.9,222.6 560.0,221.9 561.2,221.5 562.7,221.0 564.5,220.4 566.4,219.7 568.5,219.0 570.8,218.2 573.1,217.5 575.4,216.7 577.8,216.0 580.1,215.2 582.4,214.6 584.5,214.0 586.6,213.4 588.4,213.0 590.0,212.7 591.4,212.5 593.0,212.3 594.8,212.2 596.7,212.0 598.7,211.9 600.8,211.8 603.0,211.8 605.3,211.7 607.5,211.6 609.8,211.6 612.1,211.6 614.3,211.5 616.4,211.5 618.5,211.5 620.5,211.5 622.3,211.5 624.0,211.5 625.4,211.5 627.0,211.5 628.8,211.5 630.7,211.5 632.9,211.6 635.1,211.6 637.5,211.7 639.9,211.7 642.4,211.7 645.0,211.8 647.5,211.8 650.0,211.9 652.4,212.0 654.8,212.0 657.1,212.1 659.2,212.1 661.2,212.2 663.0,212.2 664.6,212.2 666.0,212.3 667.2,212.3 668.0,212.3" stroke="#ff0000" stroke-width="3.2"/>
<polyline points="0.0,338.0 1.3,337.6 3.4,336.9 5.9,336.0 8.7,335.0 11.3,333.9 13.4,332.7 15.1,331.4 17.2,329.6 19.7,327.3 22.3,324.8 24.9,322.4 27.3,320.2 29.3,318.4 30.8,317.2 33.3,316.0 35.8,315.4 38.1,314.9 40.0,314.2 41.8,312.6 44.1,310.1 46.4,307.5 48.3,305.4 49.9,303.7 51.9,301.6 54.2,299.3 56.6,297.1 58.9,295.2 60.3,294.3 62.1,293.1 64.4,291.8 66.8,290.4 69.4,288.9 72.0,287.5 74.4,286.1 76.7,284.8 78.6,283.8 80.0,283.0 82.1,281.9 84.3,280.7 86.5,279.6 88.7,278.5 90.7,277.6 92.3,276.8 94.1,276.0 96.3,274.9 98.8,273.8 101.2,272.7 103.2,271.8 104.7,271.2 106.6,270.5 108.4,270.1 110.8,270.0 112.1,270.0 113.9,270.1 116.1,270.2 118.5,270.4 121.1,270.5 123.5,270.7 125.8,270.9 127.8,271.0 129.3,271.2 131.3,271.5 133.4,271.9 135.7,272.3 137.9,272.8 139.9,273.3 141.6,273.7 143.4,274.2 145.6,274.9 148.1,275.6 150.5,276.3 152.5,277.0 154.0,277.4 156.2,277.9 158.3,278.3 160.0,278.6 161.9,278.9 164.3,279.2 166.2,279.3 167.9,278.9 170.1,278.2 172.3,277.4 173.8,276.9 175.8,276.2 178.2,275.4 180.6,274.5 182.8,273.7 184.6,273.1 186.3,272.5 188.5,271.7 190.9,270.9 193.3,270.0 195.4,269.3 197.0,268.8 199.3,268.1 202.1,267.3 204.8,266.6 206.8,266.3 209.2,266.5 212.0,267.0 214.2,267.6 216.6,268.5 219.4,269.7 221.6,270.6 224.2,271.2 226.5,271.3 228.8,270.7 231.4,269.4 233.2,268.1 235.6,266.2 238.1,264.1 240.0,262.6 242.0,260.9 244.3,258.9 246.2,257.1 248.5,254.8 251.3,251.9 253.6,249.7 255.6,248.2 258.0,246.7 260.0,246.0 262.1,246.5 264.7,247.8 267.3,249.0 268.8,249.7 270.9,250.8 273.2,251.9 275.6,253.1 277.8,254.0 279.6,254.6 281.3,254.9 283.5,255.0 285.8,255.1 288.1,255.0 290.3,254.8 292.0,254.6 293.7,254.1 295.9,253.2 298.3,252.2 300.6,251.1 302.7,250.2 304.3,249.6 306.7,249.1 309.5,248.8 312.1,248.6 314.0,248.4 316.7,247.6 319.0,247.2 321.2,248.5 324.0,250.9 325.6,252.5 328.0,254.9 330.6,257.7 333.1,260.2 335.0,262.0 336.8,263.5 338.9,265.1 341.2,266.8 343.3,268.2 345.0,269.3 346.5,270.1 348.4,271.0 350.4,271.9 352.6,272.8 355.0,273.6 356.2,274.0 357.8,274.4 359.7,274.9 361.8,275.4 364.2,276.0 366.6,276.6 369.1,277.2 371.5,277.8 373.9,278.4 376.2,279.0 378.2,279.5 380.0,280.0 381.4,280.4 383.1,281.0 385.0,281.7 387.1,282.4 389.3,283.2 391.6,284.1 394.0,284.9 396.4,285.7 398.7,286.5 401.1,287.2 403.4,287.8 405.5,288.2 407.6,288.5 409.4,288.6 411.0,288.5 412.5,288.2 414.3,287.6 416.2,286.8 418.3,285.9 420.5,284.8 422.8,283.5 425.1,282.2 427.5,280.8 429.9,279.4 432.2,277.9 434.5,276.5 436.7,275.1 438.8,273.8 440.7,272.5 442.5,271.4 444.0,270.5 445.6,269.5 447.5,268.3 449.5,266.9 451.7,265.5 454.1,263.9 456.5,262.3 458.9,260.6 461.3,258.9 463.7,257.3 466.0,255.7 468.2,254.2 470.3,252.8 472.1,251.5 473.7,250.4 475.0,249.5 477.0,248.1 479.2,246.7 481.5,245.3 483.8,243.8 486.1,242.3 488.3,240.8 490.4,239.3 492.3,237.9 494.0,236.5 495.6,235.0 497.5,233.2 499.6,231.0 501.9,228.6 504.2,226.1 506.6,223.6 508.9,221.0 511.1,218.6 513.0,216.5 514.6,214.6 516.2,212.6 518.2,210.2 520.5,207.3 522.8,204.3 525.3,201.1 527.7,198.0 530.0,195.0 532.1,192.4 533.9,190.1 535.3,188.5 537.4,186.3 539.7,184.1 542.0,182.0 544.3,180.1 546.3,178.4 548.0,177.0 549.7,175.7 551.6,174.2 553.8,172.6 556.0,171.0 558.1,169.4 560.0,168.0 561.5,166.8 563.5,165.2 565.9,163.3 568.3,161.4 570.8,159.4 573.2,157.5 575.2,155.8 576.8,154.5 578.9,152.7 581.4,150.5 584.0,148.1 586.6,145.9 588.8,144.1 590.3,142.9 593.7,141.9 596.2,142.0 598.1,142.3 600.4,143.6 601.9,145.2 604.1,147.7 606.5,150.5 608.8,153.0 610.5,154.5 612.5,155.1 614.8,155.2 617.2,155.2 619.0,155.4 620.8,156.1 623.1,157.3 625.5,158.5 627.3,159.6 629.0,160.8 631.2,162.4 633.5,164.1 635.8,165.5 637.2,166.2 639.1,167.1 641.4,168.2 643.9,169.3 646.4,170.4 648.8,171.4 650.9,172.3 652.6,173.0 654.5,173.8 656.9,174.7 659.6,175.6 662.2,176.6 664.6,177.5 666.5,178.2 667.7,178.6" stroke="#00ffff" stroke-width="2.9"/>
</g>
<g clip-path="url(#cm)">
<line x1="0" y1="323.5" x2="568" y2="0" stroke="#00ff00" stroke-width="2.4"/>
<line x1="393" y1="404" x2="847" y2="145.4" stroke="#00ff00" stroke-width="2.4"/>
<line x1="666" y1="96" x2="830.5" y2="2.2" stroke="#00ff00" stroke-width="1.3" stroke-dasharray="3 3.1"/>
</g>
<g shape-rendering="crispEdges">
<line x1="0" y1="419.5" x2="847" y2="419.5" stroke="#b4b4b4" stroke-width="1" stroke-dasharray="3 3"/>
<line x1="0" y1="457.5" x2="847" y2="457.5" stroke="#b4b4b4" stroke-width="1" stroke-dasharray="3 3"/>
<g fill="#1fb6f2">
<rect x="2" y="422.3" width="3" height="9.3"/>
<rect x="6" y="420.6" width="3" height="11.0"/>
<rect x="10" y="420.6" width="3" height="11.0"/>
<rect x="14" y="419.0" width="3" height="12.6"/>
<rect x="18" y="417.3" width="3" height="14.3"/>
<rect x="22" y="417.3" width="3" height="14.3"/>
<rect x="26" y="419.0" width="3" height="12.6"/>
<rect x="30" y="419.8" width="3" height="11.8"/>
<rect x="34" y="423.0" width="3" height="8.6"/>
<rect x="38" y="428.0" width="3" height="3.6"/>
<rect x="42" y="428.0" width="3" height="3.6"/>
<rect x="46" y="426.5" width="3" height="5.1"/>
<rect x="50" y="424.0" width="3" height="7.6"/>
<rect x="54" y="422.3" width="3" height="9.3"/>
<rect x="58" y="424.8" width="3" height="6.8"/>
<rect x="62" y="430.7" width="3" height="0.9"/>
<rect x="66" y="431.6" width="3" height="5.0"/>
<rect x="70" y="431.6" width="3" height="6.7"/>
<rect x="74" y="431.6" width="3" height="7.4"/>
<rect x="78" y="431.6" width="3" height="7.4"/>
<rect x="82" y="431.6" width="3" height="7.4"/>
<rect x="86" y="431.6" width="3" height="6.7"/>
<rect x="90" y="431.6" width="3" height="5.8"/>
<rect x="94" y="431.6" width="3" height="5.0"/>
<rect x="98" y="431.6" width="3" height="4.2"/>
<rect x="102" y="431.6" width="3" height="2.4"/>
<rect x="106" y="431.6" width="3" height="1.4"/>
<rect x="110" y="431.6" width="3" height="4.2"/>
<rect x="114" y="431.6" width="3" height="8.4"/>
<rect x="118" y="431.6" width="3" height="10.9"/>
<rect x="122" y="431.6" width="3" height="12.4"/>
<rect x="126" y="431.6" width="3" height="13.4"/>
<rect x="130" y="431.6" width="3" height="13.4"/>
<rect x="134" y="431.6" width="3" height="11.7"/>
<rect x="138" y="431.6" width="3" height="10.0"/>
<rect x="142" y="431.6" width="3" height="10.0"/>
<rect x="146" y="431.6" width="3" height="10.4"/>
<rect x="150" y="431.6" width="3" height="10.7"/>
<rect x="154" y="431.6" width="3" height="10.9"/>
<rect x="158" y="431.6" width="3" height="9.7"/>
<rect x="162" y="431.6" width="3" height="6.4"/>
<rect x="166" y="431.6" width="3" height="0.6"/>
<rect x="170" y="427.4" width="3" height="4.2"/>
<rect x="174" y="423.4" width="3" height="8.2"/>
<rect x="178" y="421.3" width="3" height="10.3"/>
<rect x="182" y="420.7" width="3" height="10.9"/>
<rect x="186" y="420.0" width="3" height="11.6"/>
<rect x="190" y="419.2" width="3" height="12.4"/>
<rect x="194" y="419.6" width="3" height="12.0"/>
<rect x="198" y="420.9" width="3" height="10.7"/>
<rect x="202" y="423.0" width="3" height="8.6"/>
<rect x="206" y="425.9" width="3" height="5.7"/>
<rect x="210" y="429.9" width="3" height="1.7"/>
<rect x="214" y="431.6" width="3" height="2.7"/>
<rect x="218" y="431.6" width="3" height="5.4"/>
<rect x="222" y="431.6" width="3" height="10.4"/>
<rect x="226" y="431.6" width="3" height="8.6"/>
<rect x="230" y="430.2" width="3" height="1.4"/>
<rect x="234" y="423.7" width="3" height="7.9"/>
<rect x="238" y="420.5" width="3" height="11.1"/>
<rect x="242" y="418.5" width="3" height="13.1"/>
<rect x="246" y="417.5" width="3" height="14.1"/>
<rect x="250" y="417.8" width="3" height="13.8"/>
<rect x="254" y="419.1" width="3" height="12.5"/>
<rect x="258" y="421.5" width="3" height="10.1"/>
<rect x="262" y="431.0" width="3" height="0.6"/>
<rect x="266" y="431.6" width="3" height="7.2"/>
<rect x="270" y="431.6" width="3" height="14.3"/>
<rect x="274" y="431.6" width="3" height="18.0"/>
<rect x="278" y="431.6" width="3" height="20.2"/>
<rect x="282" y="431.6" width="3" height="20.8"/>
<rect x="286" y="431.6" width="3" height="18.3"/>
<rect x="290" y="431.6" width="3" height="12.7"/>
<rect x="294" y="431.6" width="3" height="3.8"/>
<rect x="298" y="427.7" width="3" height="3.9"/>
<rect x="302" y="423.8" width="3" height="7.8"/>
<rect x="306" y="422.4" width="3" height="9.2"/>
<rect x="310" y="423.2" width="3" height="8.4"/>
<rect x="314" y="424.0" width="3" height="7.6"/>
<rect x="318" y="425.6" width="3" height="6.0"/>
<rect x="322" y="431.6" width="3" height="3.6"/>
<rect x="326" y="431.6" width="3" height="13.4"/>
<rect x="330" y="431.6" width="3" height="19.2"/>
<rect x="334" y="431.6" width="3" height="20.9"/>
<rect x="338" y="431.6" width="3" height="22.4"/>
<rect x="342" y="431.6" width="3" height="20.5"/>
<rect x="346" y="431.6" width="3" height="14.8"/>
<rect x="350" y="431.6" width="3" height="9.0"/>
<rect x="354" y="431.6" width="3" height="4.6"/>
<rect x="358" y="431.6" width="3" height="0.6"/>
<rect x="362" y="426.7" width="3" height="4.9"/>
<rect x="366" y="423.1" width="3" height="8.5"/>
<rect x="370" y="420.5" width="3" height="11.1"/>
<rect x="374" y="419.8" width="3" height="11.8"/>
<rect x="378" y="421.1" width="3" height="10.5"/>
<rect x="382" y="422.1" width="3" height="9.5"/>
<rect x="386" y="425.3" width="3" height="6.3"/>
<rect x="390" y="425.7" width="3" height="5.9"/>
<rect x="394" y="425.7" width="3" height="5.9"/>
<rect x="398" y="427.0" width="3" height="4.6"/>
<rect x="402" y="429.7" width="3" height="1.9"/>
<rect x="406" y="429.9" width="3" height="1.7"/>
<rect x="410" y="429.9" width="3" height="1.7"/>
<rect x="414" y="427.2" width="3" height="4.4"/>
<rect x="418" y="421.6" width="3" height="10.0"/>
<rect x="422" y="414.6" width="3" height="17.0"/>
<rect x="426" y="410.2" width="3" height="21.4"/>
<rect x="430" y="409.1" width="3" height="22.5"/>
<rect x="434" y="409.7" width="3" height="21.9"/>
<rect x="438" y="411.5" width="3" height="20.1"/>
<rect x="442" y="414.0" width="3" height="17.6"/>
<rect x="446" y="416.7" width="3" height="14.9"/>
<rect x="450" y="418.1" width="3" height="13.5"/>
<rect x="454" y="419.0" width="3" height="12.6"/>
<rect x="458" y="421.4" width="3" height="10.2"/>
<rect x="462" y="424.5" width="3" height="7.1"/>
<rect x="466" y="428.3" width="3" height="3.3"/>
<rect x="470" y="430.7" width="3" height="0.9"/>
<rect x="474" y="431.6" width="3" height="1.5"/>
<rect x="478" y="431.6" width="3" height="2.4"/>
<rect x="482" y="431.6" width="3" height="2.5"/>
<rect x="486" y="431.6" width="3" height="2.1"/>
<rect x="490" y="431.4" width="3" height="0.6"/>
<rect x="494" y="429.2" width="3" height="2.4"/>
<rect x="498" y="426.9" width="3" height="4.7"/>
<rect x="502" y="425.9" width="3" height="5.7"/>
<rect x="506" y="424.4" width="3" height="7.2"/>
<rect x="510" y="423.4" width="3" height="8.2"/>
<rect x="514" y="421.8" width="3" height="9.8"/>
<rect x="518" y="420.3" width="3" height="11.3"/>
<rect x="522" y="419.6" width="3" height="12.0"/>
<rect x="526" y="420.3" width="3" height="11.3"/>
<rect x="530" y="421.4" width="3" height="10.2"/>
<rect x="534" y="425.0" width="3" height="6.6"/>
<rect x="538" y="431.6" width="3" height="0.6"/>
<rect x="542" y="431.6" width="3" height="2.3"/>
<rect x="546" y="431.6" width="3" height="4.2"/>
<rect x="550" y="431.6" width="3" height="6.6"/>
<rect x="554" y="431.6" width="3" height="9.4"/>
<rect x="558" y="431.6" width="3" height="11.1"/>
<rect x="562" y="431.6" width="3" height="10.7"/>
<rect x="566" y="431.6" width="3" height="9.6"/>
<rect x="570" y="431.6" width="3" height="9.1"/>
<rect x="574" y="431.6" width="3" height="7.5"/>
<rect x="578" y="431.6" width="3" height="5.9"/>
<rect x="582" y="431.6" width="3" height="5.1"/>
<rect x="586" y="431.6" width="3" height="3.2"/>
<rect x="590" y="431.6" width="3" height="0.8"/>
<rect x="594" y="431.6" width="3" height="7.2"/>
<rect x="598" y="431.6" width="3" height="15.9"/>
<rect x="602" y="431.6" width="3" height="26.8"/>
<rect x="606" y="431.6" width="3" height="34.7"/>
<rect x="610" y="431.6" width="3" height="35.4"/>
<rect x="614" y="431.6" width="3" height="30.0"/>
<rect x="618" y="431.6" width="3" height="22.9"/>
<rect x="622" y="431.6" width="3" height="19.8"/>
<rect x="626" y="431.6" width="3" height="17.4"/>
<rect x="630" y="431.6" width="3" height="14.4"/>
<rect x="634" y="431.6" width="3" height="11.7"/>
<rect x="638" y="431.6" width="3" height="8.6"/>
<rect x="642" y="431.6" width="3" height="6.2"/>
<rect x="646" y="431.6" width="3" height="3.4"/>
<rect x="650" y="431.3" width="3" height="0.6"/>
<rect x="654" y="429.4" width="3" height="2.2"/>
<rect x="658" y="426.4" width="3" height="5.2"/>
<rect x="662" y="425.0" width="3" height="6.6"/>
<rect x="666" y="423.4" width="3" height="8.2"/>
</g>
<rect x="0" y="425" width="847" height="1" fill="#7a8ba3"/>
<rect x="0" y="431" width="847" height="1" fill="#7a8ba3"/>
<rect x="0" y="438" width="847" height="1" fill="#7a8ba3"/>
<rect x="0" y="451" width="847" height="1" fill="#7a8ba3"/>
</g>
<g clip-path="url(#cs)" fill="none" stroke-linejoin="round">
<polyline points="4.0,416.6 8.0,414.8 12.0,413.6 16.0,411.7 20.0,410.9 24.0,410.5 28.0,411.0 32.0,413.1 36.0,419.3 40.0,430.2 44.0,438.3 48.0,438.8 52.0,429.5 56.0,420.6 60.0,416.2 64.0,418.8 68.0,426.3 72.0,437.3 76.0,444.5 80.0,445.6 84.0,440.5 88.0,435.2 92.0,430.2 96.0,428.1 100.0,426.6 104.0,425.4 108.0,422.0 112.0,422.7 116.0,429.3 120.0,442.4 124.0,451.9 128.0,456.4 132.0,454.7 136.0,450.3 140.0,443.2 144.0,437.7 148.0,436.7 152.0,440.6 156.0,445.1 160.0,446.3 164.0,441.0 168.0,430.6 172.0,420.8 176.0,415.3 180.0,413.7 184.0,414.2 188.0,416.7 192.0,418.5 196.0,418.7 200.0,418.9 204.0,421.8 208.0,428.0 212.0,436.8 216.0,447.8 220.0,456.5 224.0,460.0 228.0,455.2 232.0,444.5 236.0,432.0 240.0,422.0 244.0,418.4 248.0,418.2 252.0,418.8 256.0,419.0 260.0,420.2 264.0,428.5 268.0,441.0 272.0,455.2 276.0,462.8 280.0,465.6 284.0,464.6 288.0,460.0 292.0,448.5 296.0,432.3 300.0,418.8 304.0,412.6 308.0,413.5 312.0,418.6 316.0,427.2 320.0,438.0 324.0,448.6 328.0,456.4 332.0,460.7 336.0,461.7 340.0,461.1 344.0,459.1 348.0,454.8 352.0,446.3 356.0,435.9 360.0,425.9 364.0,418.9 368.0,414.6 372.0,412.5 376.0,413.8 380.0,418.5 384.0,427.2 388.0,438.0 392.0,443.5 396.0,442.3 400.0,435.0 404.0,432.7 408.0,433.6 412.0,436.6 416.0,434.2 420.0,428.6 424.0,421.0 428.0,415.3 432.0,412.5 436.0,412.5 440.0,415.6 444.0,421.7 448.0,427.1 452.0,426.9 456.0,421.8 460.0,417.0 464.0,418.2 468.0,424.2 472.0,431.3 476.0,437.2 480.0,437.7 484.0,433.7 488.0,426.4 492.0,420.3 496.0,416.7 500.0,414.1 504.0,413.8 508.0,415.1 512.0,417.6 516.0,418.2 520.0,416.0 524.0,413.1 528.0,412.1 532.0,413.2 536.0,418.7 540.0,428.2 544.0,440.6 548.0,450.0 552.0,454.3 556.0,454.2 560.0,452.0 564.0,447.1 568.0,441.1 572.0,436.0 576.0,432.6 580.0,431.9 584.0,431.6 588.0,431.7 592.0,429.1 596.0,430.6 600.0,435.9 604.0,445.5 608.0,452.1 612.0,455.3 616.0,452.9 620.0,445.0 624.0,434.8 628.0,430.1 632.0,434.4 636.0,443.8 640.0,450.4 644.0,449.9 648.0,442.8 652.0,432.5 656.0,425.4 660.0,422.5 664.0,422.6 668.0,422.9" stroke="#ff0000" stroke-width="1" stroke-dasharray="2 2.6"/>
<polyline points="0.0,422.6 3.8,415.0 10.0,411.3 25.0,410.0 32.6,418.8 40.0,449.0 46.4,432.6 50.0,417.6 56.4,413.8 61.5,420.0 71.5,451.4 82.8,435.0 91.5,425.0 95.3,428.9 107.9,417.6 114.0,437.6 119.0,457.7 130.4,454.0 139.0,433.9 144.0,436.4 150.5,445.0 156.8,451.4 160.5,438.9 165.5,420.0 173.0,412.6 180.6,413.8 188.0,421.3 194.4,416.3 200.6,422.6 208.0,437.6 215.7,462.7 220.0,461.5 225.0,455.2 230.0,432.6 233.8,421.3 238.8,416.3 245.0,420.0 252.6,417.6 258.9,422.6 265.0,452.7 271.4,466.5 279.0,465.2 285.2,461.5 290.2,435.0 294.0,415.0 300.0,410.6 305.0,413.1 309.2,421.5 313.4,433.2 318.5,448.4 323.5,459.3 328.6,462.6 333.6,461.8 340.3,459.3 345.4,453.4 348.7,443.3 352.1,429.9 358.0,419.8 363.8,412.2 372.2,412.2 375.6,418.1 379.8,428.2 384.0,441.6 387.4,450.4 391.6,441.6 395.7,433.2 399.1,427.4 402.5,435.8 407.5,437.4 411.7,436.6 415.9,426.5 420.1,418.1 424.3,412.2 429.3,411.1 434.4,413.1 439.4,421.5 442.8,429.9 446.1,433.2 450.0,421.5 455.9,413.4 460.0,417.3 464.3,426.5 468.5,435.8 475.2,441.3 479.4,433.2 483.6,424.8 487.8,418.1 492.0,414.8 495.4,415.1 499.6,411.1 503.8,415.6 508.0,419.8 513.0,419.0 517.2,413.9 520.6,410.6 524.8,410.6 528.1,414.8 532.3,416.1 534.0,423.2 537.4,436.6 541.6,450.0 544.0,455.1 549.1,455.4 554.2,453.4 559.2,448.4 564.2,437.4 567.6,434.1 571.0,433.2 575.0,429.9 580.0,433.2 586.0,431.6 591.5,424.0 593.5,433.2 597.7,443.3 601.9,452.6 606.1,456.4 610.3,456.8 613.7,451.7 617.0,438.3 620.4,429.0 623.8,424.0 627.1,432.4 630.5,445.0 634.7,453.4 638.0,453.4 641.4,448.4 644.8,440.0 648.1,428.2 651.5,419.5 655.7,424.0 659.9,423.2 663.2,421.1 666.6,424.0" stroke="#0000ff" stroke-width="1"/>
<polyline points="0.0,432.8 5.0,431.0 10.0,430.2 16.8,429.4 21.8,426.9 30.2,427.2 36.0,432.8 40.3,435.3 45.4,431.0 48.7,428.6 55.4,429.9 62.0,434.4 67.0,436.0 75.6,436.0 84.0,435.6 94.0,435.6 100.8,433.6 107.5,432.8 111.7,436.0 116.0,439.5 121.0,441.2 134.4,440.3 150.0,440.0 160.0,439.1 166.8,437.4 171.8,436.3 186.1,435.4 190.3,433.6 194.5,432.9 198.7,434.6 207.1,435.4 212.2,439.1 217.2,442.5 222.2,444.2 225.6,443.3 229.0,439.1 232.3,429.9 237.4,431.6 241.6,432.9 245.8,431.6 249.1,432.4 254.1,430.7 257.5,432.4 261.7,437.4 265.9,440.8 274.3,442.0 282.7,442.5 289.4,440.3 296.2,435.8 300.0,432.9 305.0,434.1 309.2,437.4 318.5,437.4 322.7,447.0 330.2,447.0 338.6,448.0 343.7,444.2 350.4,442.5 357.1,440.8 363.8,438.3 370.6,437.8 373.9,439.1 382.3,440.0 387.4,443.0 394.1,439.1 399.1,440.0 403.3,443.7 407.5,440.0 412.6,439.1 417.6,432.4 424.3,429.5 432.7,429.9 441.1,430.4 450.0,428.2 455.0,426.5 460.0,429.9 466.8,432.4 474.4,433.7 479.4,430.2 483.6,431.6 488.6,428.2 495.4,426.5 502.0,423.5 508.8,423.2 517.2,421.5 523.9,420.6 529.8,419.8 532.3,419.0 534.0,425.7 537.4,429.9 544.0,431.2 554.0,431.6 564.2,431.2 570.0,430.7 575.0,428.5 580.0,430.7 585.1,429.9 589.3,428.2 591.5,426.9 593.5,434.1 596.0,443.3 600.2,449.2 603.6,452.6 607.8,452.6 611.2,447.5 615.4,442.5 618.7,440.3 622.0,443.3 627.1,445.0 633.8,445.8 640.6,444.2 647.3,443.3 655.7,442.8 661.6,439.6 664.0,440.8 667.4,442.1" stroke="#0000cd" stroke-width="2"/>
</g>
<g shape-rendering="crispEdges" fill="#000">
<rect x="0" y="0" width="848" height="1"/>
<rect x="0" y="403" width="848" height="1"/>
<rect x="0" y="405" width="848" height="1"/>
<rect x="0" y="470" width="848" height="1"/>
<rect x="847" y="0" width="1" height="404"/>
<rect x="847" y="405" width="1" height="66"/>
<rect x="848" y="4" width="2" height="1"/>
<rect x="848" y="37" width="2" height="1"/>
<rect x="848" y="70" width="2" height="1"/>
<rect x="848" y="103" width="2" height="1"/>
<rect x="848" y="136" width="2" height="1"/>
<rect x="848" y="169" width="2" height="1"/>
<rect x="848" y="268" width="2" height="1"/>
<rect x="848" y="301" width="2" height="1"/>
<rect x="848" y="334" width="2" height="1"/>
<rect x="848" y="367" width="2" height="1"/>
<rect x="848" y="400" width="2" height="1"/>
<rect x="848" y="235" width="2" height="1"/>
<rect x="848" y="202" width="2" height="1"/>
<rect x="848" y="407" width="2" height="1"/>
<rect x="63" y="471" width="1" height="3"/>
<rect x="127" y="471" width="1" height="3"/>
<rect x="191" y="471" width="1" height="3"/>
<rect x="255" y="471" width="1" height="3"/>
<rect x="319" y="471" width="1" height="3"/>
<rect x="383" y="471" width="1" height="3"/>
<rect x="447" y="471" width="1" height="3"/>
<rect x="511" y="471" width="1" height="3"/>
<rect x="575" y="471" width="1" height="3"/>
<rect x="639" y="471" width="1" height="3"/>
</g>
<polygon points="670.5,1 680.5,1 675.5,6.2" fill="#b2b2b2"/>
</svg>
<div class="t" style="left:0px;top:3px"><svg width="9" height="10" style="position:absolute;left:0;top:0"><polygon points="1,3.8 8.8,3.8 4.9,8.3" fill="#000"/></svg></div>
<div class="t" style="left:15.2px;top:4px;letter-spacing:0.1px;word-spacing:0.2px">#SPX,H1  6895.58 6903.03 6889.23 6890.28</div>
<div class="t pl" style="top:-0.8px">6973.30</div>
<div class="t pl" style="top:32.2px">6960.10</div>
<div class="t pl" style="top:65.2px">6946.50</div>
<div class="t pl" style="top:98.2px">6932.90</div>
<div class="t pl" style="top:131.2px">6919.70</div>
<div class="t pl" style="top:164.2px">6906.10</div>
<div class="t pl" style="top:263.2px">6865.70</div>
<div class="t pl" style="top:296.2px">6852.50</div>
<div class="t pl" style="top:329.2px">6838.90</div>
<div class="t pl" style="top:362.2px">6825.30</div>
<div class="t pl" style="top:395.2px">6812.10</div>
<div class="t pl" style="top:230.5px">6879.30</div>
<div class="bx" style="top:198.0px;height:11px"><span style="left:4px;top:0.5px">6892.00</span></div>
<div class="bx" style="top:208.0px;height:11px"><span style="left:4px;top:0.5px">6888.00</span></div>
<div class="bx" style="top:226.8px;height:11px"><span style="left:4px;top:0.5px">6880.00</span></div>
<div class="t" style="left:851.2px;top:407px">7.6408</div>
<div class="t" style="left:849.8px;top:415px">80</div>
<div class="t" style="left:849.8px;top:452px">20</div>
<div class="t" style="left:851.8px;top:427px">0.00</div>
<div class="t" style="left:850.7px;top:458px">-12.4164</div>
<div class="bx" style="top:419.8px;width:12px;height:10.8px"><span style="left:1.2px;top:0.4px">70</span></div>
<div class="bx" style="top:433.3px;width:12px;height:10.8px"><span style="left:1.2px;top:0.4px">50</span></div>
<div class="bx" style="top:446.2px;width:12px;height:10.8px"><span style="left:1.2px;top:0.4px">30</span></div>
<div class="t" style="left:3.4px;top:410px;letter-spacing:0.23px">OsMA(12,26,9)</div>
<div class="t" style="left:70.2px;top:410px;letter-spacing:-0.10px">2.3903</div>
<div class="t" style="left:104.5px;top:410px;letter-spacing:0.11px">Stoch(5,3,3)</div>
<div class="t" style="left:157.6px;top:410px;letter-spacing:0.02px">69.5598</div>
<div class="t" style="left:194.0px;top:410px;letter-spacing:-0.20px">73.0386</div>
<div class="t" style="left:232.6px;top:410px;letter-spacing:0.17px">RSI(14)</div>
<div class="t" style="left:267.6px;top:410px;letter-spacing:0.02px">44.0114</div>
<div class="t" style="left:-1.7px;top:474.5px;font-size:9.3px;letter-spacing:0.04px">18 Feb 2026</div>
<div class="t" style="left:61.8px;top:474.5px;font-size:9.3px;letter-spacing:0.04px">18 Feb 22:00</div>
<div class="t" style="left:125.8px;top:474.5px;font-size:9.3px;letter-spacing:0.04px">19 Feb 14:00</div>
<div class="t" style="left:189.8px;top:474.5px;font-size:9.3px;letter-spacing:0.04px">20 Feb 07:00</div>
<div class="t" style="left:253.8px;top:474.5px;font-size:9.3px;letter-spacing:0.04px">20 Feb 23:00</div>
<div class="t" style="left:317.8px;top:474.5px;font-size:9.3px;letter-spacing:0.04px">23 Feb 16:00</div>
<div class="t" style="left:381.8px;top:474.5px;font-size:9.3px;letter-spacing:0.04px">24 Feb 09:00</div>
<div class="t" style="left:445.8px;top:474.5px;font-size:9.3px;letter-spacing:0.04px">25 Feb 02:00</div>
<div class="t" style="left:509.8px;top:474.5px;font-size:9.3px;letter-spacing:0.04px">25 Feb 18:00</div>
<div class="t" style="left:573.8px;top:474.5px;font-size:9.3px;letter-spacing:0.04px">26 Feb 11:00</div>
<div class="t" style="left:637.8px;top:474.5px;font-size:9.3px;letter-spacing:0.04px">27 Feb 04:00</div>
<div class="wm"></div>
<svg width="180" height="45" viewBox="0 0 180 45" style="position:absolute;left:0;top:442px">
<g transform="translate(24.1,20.6)">
<g fill="#fff"><rect x="-2.4" y="-17.3" width="4.8" height="6" transform="rotate(0)"/><rect x="-2.4" y="-17.3" width="4.8" height="6" transform="rotate(30)"/><rect x="-2.4" y="-17.3" width="4.8" height="6" transform="rotate(60)"/><rect x="-2.4" y="-17.3" width="4.8" height="6" transform="rotate(90)"/><rect x="-2.4" y="-17.3" width="4.8" height="6" transform="rotate(120)"/><rect x="-2.4" y="-17.3" width="4.8" height="6" transform="rotate(150)"/><rect x="-2.4" y="-17.3" width="4.8" height="6" transform="rotate(210)"/><rect x="-2.4" y="-17.3" width="4.8" height="6" transform="rotate(240)"/><rect x="-2.4" y="-17.3" width="4.8" height="6" transform="rotate(270)"/><rect x="-2.4" y="-17.3" width="4.8" height="6" transform="rotate(300)"/><rect x="-2.4" y="-17.3" width="4.8" height="6" transform="rotate(330)"/><circle r="13.4"/><rect x="-2.1" y="8" width="4.2" height="7.6"/></g>
<g fill="#7d7d7d">
<circle cx="0" cy="-7.3" r="3"/>
<path d="M-9.6,-4.2 L-7.6,-6.8 L-2.2,-1.6 L-2.2,14.2 L-5.7,14.2 L-5.7,1.2 Z"/>
<path d="M9.6,-4.2 L7.6,-6.8 L2.2,-1.6 L2.2,14.2 L5.7,14.2 L5.7,1.2 Z"/>
</g>
</g>
</svg>
<div class="t" style="left:47.5px;top:444.5px;font-size:29px;line-height:30px;height:30px;color:#fff;-webkit-text-stroke:0;letter-spacing:0.1px">instaforex</div>
<div class="t" style="left:48px;top:471.5px;font-size:10px;line-height:12px;height:12px;color:#fff;-webkit-text-stroke:0;letter-spacing:0.4px">Instant Forex Trading</div>
</body></html>
